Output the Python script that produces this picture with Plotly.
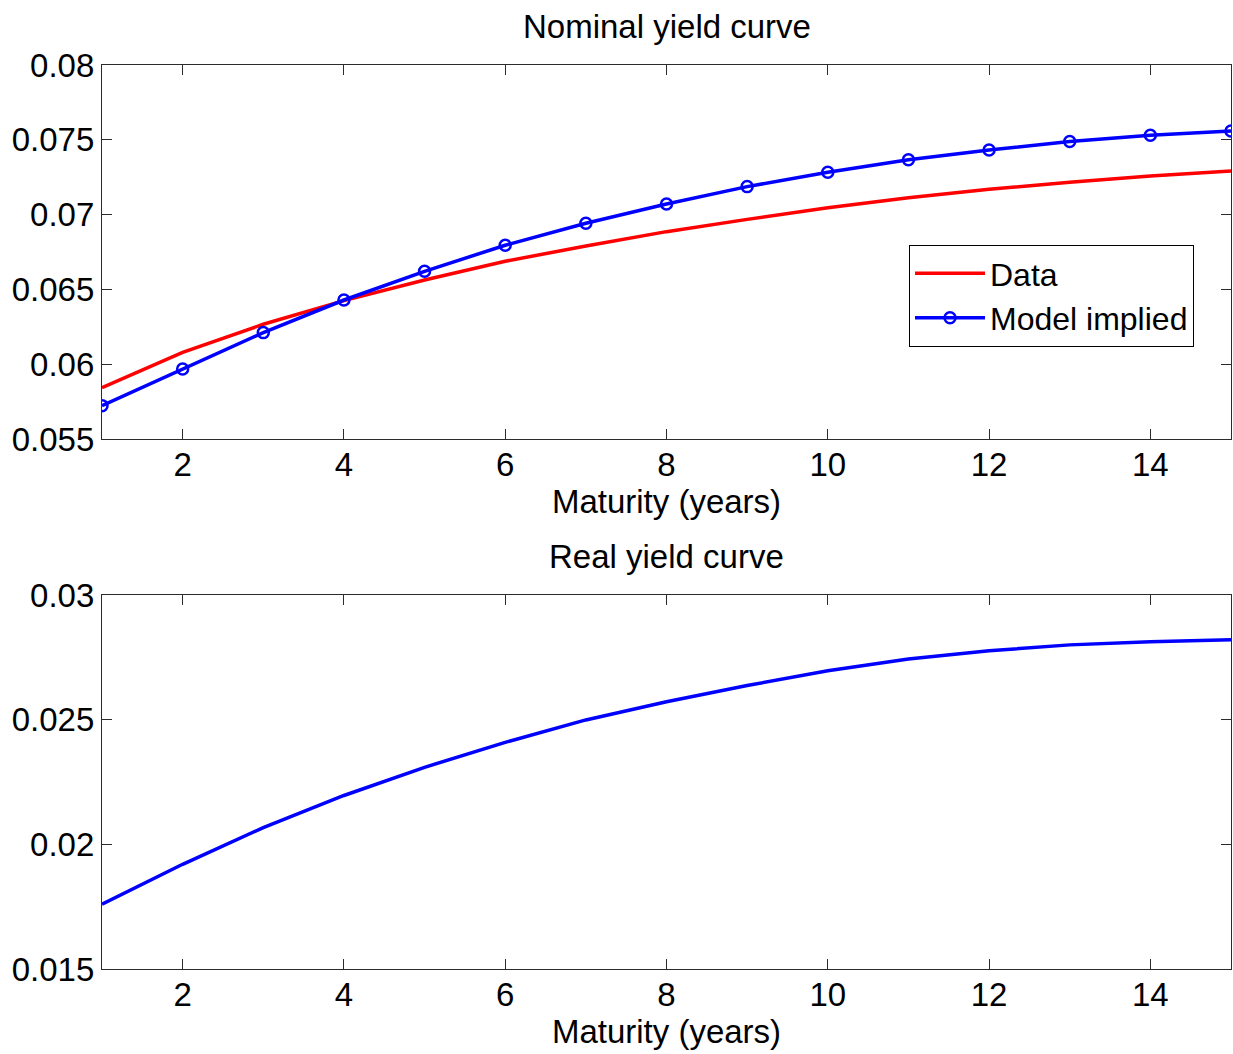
import plotly.graph_objects as go
from plotly.subplots import make_subplots

maturity = [1, 2, 3, 4, 5, 6, 7, 8, 9, 10, 11, 12, 13, 14, 15]

nominal_data = [0.05843, 0.06079, 0.06267, 0.06425, 0.06563, 0.06688, 0.06790, 0.06886,
                0.06968, 0.07046, 0.07113, 0.07169, 0.07216, 0.07258, 0.07291]
nominal_model = [0.05723, 0.05968, 0.06211, 0.06429, 0.06621, 0.06795, 0.06942, 0.07071,
                 0.07187, 0.07283, 0.07367, 0.07432, 0.07488, 0.07530, 0.07559]
real_model = [0.01760, 0.01920, 0.02067, 0.02196, 0.02309, 0.02409, 0.02499, 0.02572,
              0.02637, 0.02696, 0.02743, 0.02776, 0.02800, 0.02813, 0.02821]

x_ticks = [2, 4, 6, 8, 10, 12, 14]
top_y_ticks = [0.055, 0.06, 0.065, 0.07, 0.075, 0.08]
top_y_labels = ["0.055", "0.06", "0.065", "0.07", "0.075", "0.08"]
bot_y_ticks = [0.015, 0.02, 0.025, 0.03]
bot_y_labels = ["0.015", "0.02", "0.025", "0.03"]

FONT = "Liberation Sans, Arial, sans-serif"
FS = 33
AX = "#2b2b2b"

fig = make_subplots(rows=2, cols=1, vertical_spacing=0.1726)

fig.add_trace(go.Scatter(x=maturity, y=nominal_data, mode="lines", name="Data",
                         line=dict(color="#ff0000", width=3.5)), row=1, col=1)
fig.add_trace(go.Scatter(x=maturity, y=nominal_model, mode="lines+markers", name="Model implied",
                         line=dict(color="#0000ff", width=3.5),
                         marker=dict(symbol="circle-open", size=11, color="#0000ff",
                                     line=dict(width=2.5, color="#0000ff"))), row=1, col=1)
fig.add_trace(go.Scatter(x=maturity, y=real_model, mode="lines", showlegend=False,
                         line=dict(color="#0000ff", width=3.5)), row=2, col=1)

axis_common = dict(showline=True, linecolor=AX, linewidth=1.2, mirror="ticks",
                   ticks="inside", ticklen=10, tickwidth=1.2, tickcolor=AX,
                   showgrid=False, zeroline=False,
                   tickfont=dict(family=FONT, size=FS, color="black"))

for r in (1, 2):
    fig.update_xaxes(range=[1, 15], tickvals=x_ticks, row=r, col=1,
                     ticklabelstandoff=-4,
                     title=dict(text="Maturity (years)", standoff=0,
                                font=dict(family=FONT, size=FS, color="black")),
                     **axis_common)

fig.update_yaxes(range=[0.055, 0.08], tickvals=top_y_ticks, ticktext=top_y_labels,
                 row=1, col=1, **axis_common)
fig.update_yaxes(range=[0.015, 0.03], tickvals=bot_y_ticks, ticktext=bot_y_labels,
                 row=2, col=1, **axis_common)

fig.update_layout(
    width=1233, height=1054,
    margin=dict(l=102, r=2, t=65, b=85),
    paper_bgcolor="white", plot_bgcolor="white",
    font=dict(family=FONT, size=FS, color="black"),
    showlegend=True,
    legend=dict(x=0.7148, y=0.801, xanchor="left", yanchor="top",
                bordercolor="black", borderwidth=1, bgcolor="white",
                font=dict(family=FONT, size=32, color="black"),
                tracegroupgap=0, itemwidth=70),
)

plot_h = 1054 - 65 - 85
fig.add_annotation(text="Nominal yield curve", x=0.5, xref="paper",
                   y=(1054 - 85 - 27) / plot_h, yref="paper", yanchor="middle",
                   showarrow=False, font=dict(family=FONT, size=FS, color="black"))
fig.add_annotation(text="Real yield curve", x=0.5, xref="paper",
                   y=(1054 - 85 - 556) / plot_h, yref="paper", yanchor="middle",
                   showarrow=False, font=dict(family=FONT, size=FS, color="black"))

fig.write_html("out.html")
